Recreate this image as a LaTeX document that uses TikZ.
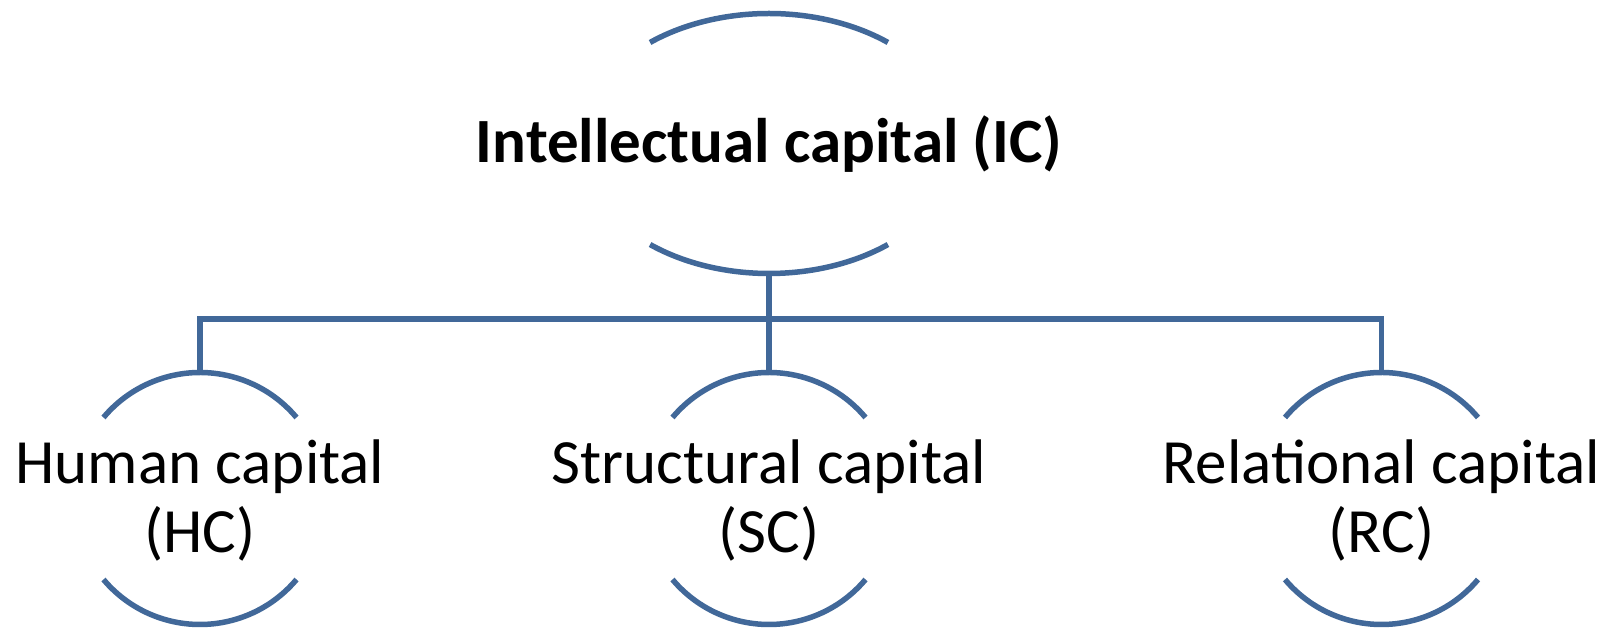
\documentclass[tikz,border=0pt]{standalone}
\usepackage{fontspec}
\setmainfont{Carlito}
\definecolor{capline}{RGB}{65,104,153}
\begin{document}
\begin{tikzpicture}[x=1pt,y=1pt,
  arcline/.style={draw=capline,line width=5.5pt},
  link/.style={draw=capline,line width=5.5pt},
  titletext/.style={inner sep=0pt,font=\fontsize{63}{70}\selectfont\bfseries,text height=47pt,text depth=8pt},
  captext/.style={inner sep=0pt,align=center,font=\fontsize{63}{69}\selectfont}]
  \useasboundingbox (0,0) rectangle (1617,628);
  \node[titletext] (ic) at (769,484.5) {Intellectual capital (IC)};
  \node[captext] (hc) at (200,127.5) {Human capital\\(HC)};
  \node[captext] (sc) at (769,127.5) {Structural capital\\(SC)};
  \node[captext] (rc) at (1381.5,127.5) {Relational capital\\(RC)};
  \draw[arcline] (ic.center) ++(129:189 and 130) arc[start angle=129,end angle=51,x radius=189,y radius=130];
  \draw[arcline] (ic.center) ++(231:189 and 130) arc[start angle=231,end angle=309,x radius=189,y radius=130];
  \path (ic.center) ++(0,-130) coordinate (ic-s);
  \foreach \n in {hc,sc,rc} {
    \draw[arcline] (\n.center) ++(0,2) ++(140:126) arc[start angle=140,end angle=40,radius=126];
    \draw[arcline] (\n.center) ++(0,2) ++(220:126) arc[start angle=220,end angle=320,radius=126];
    \path (\n.center) ++(0,128) coordinate (\n-n);
  }
  \path (ic-s) ++(0,-45.5) coordinate (bus);
  \draw[link] (hc-n) |- (bus) -| (rc-n);
  \draw[link] (ic-s) -- (sc-n);
\end{tikzpicture}
\end{document}
